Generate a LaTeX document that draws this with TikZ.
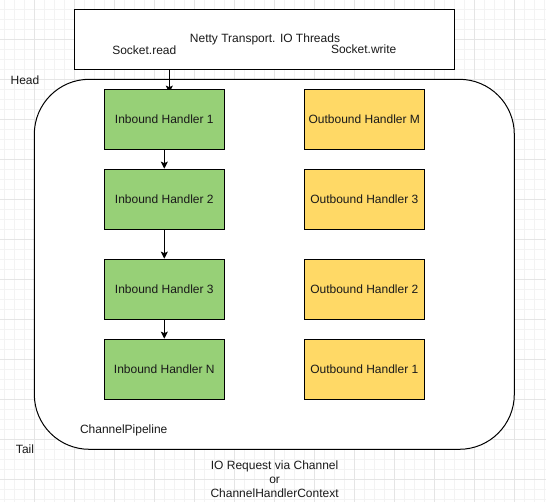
\documentclass[tikz,border=0pt]{standalone}
\usepackage{fontspec}
\setmainfont{Liberation Sans}
\usetikzlibrary{arrows.meta}
\definecolor{inbgreen}{HTML}{97D077}
\definecolor{outorange}{HTML}{FFD966}
\definecolor{gridminor}{HTML}{F3F3F3}
\definecolor{gridmajor}{HTML}{E5E5E5}
\definecolor{txt}{HTML}{1A1A1A}
\pgfdeclarelayer{bg}
\pgfdeclarelayer{arr}
\pgfsetlayers{bg,arr,main}
\begin{document}
\begin{tikzpicture}[x=1pt,y=-1pt,
  every node/.style={font=\fontsize{12}{14}\selectfont, text=txt},
  hbox/.style={draw=black, line width=1.3pt, minimum width=120pt, minimum height=60pt, inner sep=0pt},
  inb/.style={hbox, fill=inbgreen},
  outb/.style={hbox, fill=outorange},
  lbl/.style={inner sep=0pt, align=center},
  flow/.style={draw=black, line width=1.3pt, -{Stealth[length=7pt,width=7pt,inset=1.5pt]}},
  minorline/.style={draw=gridminor, line width=0.8pt},
  majorline/.style={draw=gridmajor, line width=0.8pt}]
\useasboundingbox (0,0) rectangle (546,502);

% handler boxes
\node[inb] (g1) at (164.3,119.3) {Inbound Handler 1};
\node[inb] (g2) at (164.3,199.3) {Inbound Handler 2};
\node[inb] (g3) at (164.3,289.3) {Inbound Handler 3};
\node[inb] (gN) at (164.3,369.3) {Inbound Handler N};
\node[outb] (oM) at (364.3,119.3) {Outbound Handler M};
\node[outb] (o3) at (364.3,199.3) {Outbound Handler 3};
\node[outb] (o2) at (364.3,289.3) {Outbound Handler 2};
\node[outb] (o1) at (364.3,369.3) {Outbound Handler 1};

\begin{pgfonlayer}{bg}
  \fill[white] (0,0) rectangle (546,502);
  \foreach \k in {0,...,54} {
    \draw[minorline] (4.3+10*\k,0) -- (4.3+10*\k,502);
  }
  \foreach \k in {0,...,49} {
    \draw[minorline] (0,9.5+10*\k) -- (546,9.5+10*\k);
  }
  \foreach \k in {-1,...,13} {
    \draw[majorline] (34.3+40*\k,0) -- (34.3+40*\k,502);
  }
  \foreach \k in {-1,...,12} {
    \draw[majorline] (0,39.5+40*\k) -- (546,39.5+40*\k);
  }
  \node[draw=black, line width=1.3pt, fill=white, minimum width=380pt, minimum height=60pt, inner sep=0pt] (top) at (264.3,39.3) {};
  \node[draw=black, line width=1pt, fill=white, rounded corners=55pt, minimum width=480pt, minimum height=370pt, inner sep=0pt] (pipe) at (274.3,264.3) {};
\end{pgfonlayer}

% labels
\node[lbl] (netty) at (265,39.5) {Netty Transport. IO Threads};
\node[lbl] (sread) at (144.3,50) {Socket.read};
\node[lbl] (swrite) at (363.7,49.5) {Socket.write};
\node[lbl] (head) at (25,80) {Head};
\node[lbl] (tail) at (25,449.3) {Tail};
\node[lbl] (cp) at (123.7,430) {ChannelPipeline};
\node[lbl] (ioreq) at (274.6,479.5) {IO Request via Channel\\or\\ChannelHandlerContext};

% connectors
\coordinate (rd) at (169.3,69.3);
\begin{pgfonlayer}{arr}
  \draw[flow, shorten >=-4pt] (rd) -- (rd |- g1.north);
\end{pgfonlayer}
\draw[flow] (g1) -- (g2);
\draw[flow] (g2) -- (g3);
\draw[flow] (g3) -- (gN);
\end{tikzpicture}
\end{document}
